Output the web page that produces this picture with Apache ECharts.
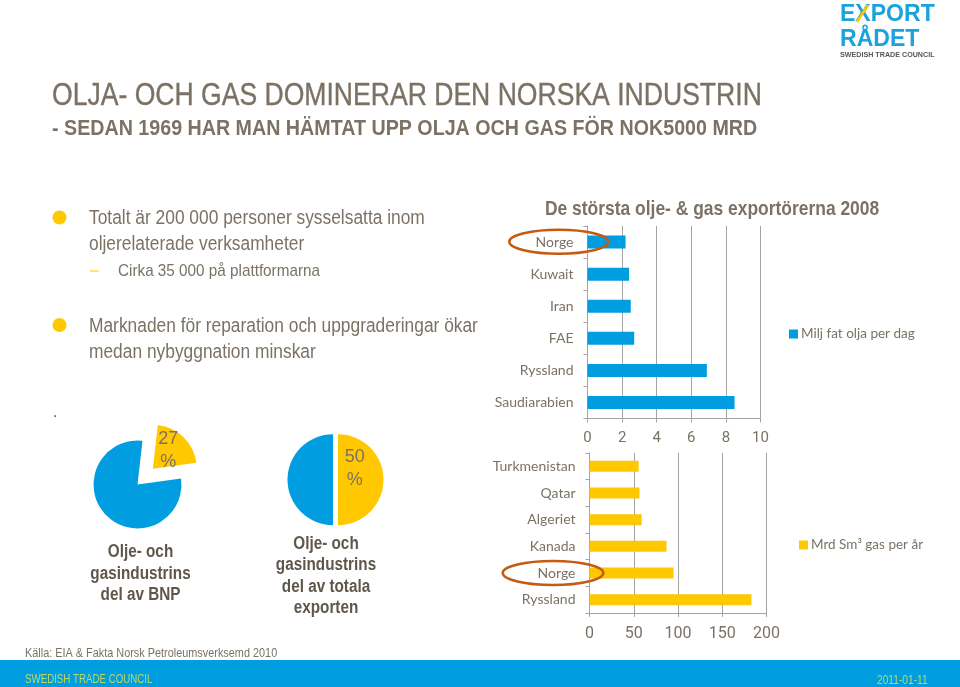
<!DOCTYPE html>
<html>
<head>
<meta charset="utf-8">
<style>
  html, body { margin: 0; padding: 0; background: #fff; }
  #chart { width: 960px; height: 687px; }
</style>
<script src="https://cdn.jsdelivr.net/npm/echarts@6/dist/echarts.min.js"></script>
</head>
<body>
<div id="chart"></div>
<script>
const oilCountries = ["Norge", "Kuwait", "Iran", "FAE", "Ryssland", "Saudiarabien"];
const oilValues = [2.2, 2.4, 2.5, 2.7, 6.9, 8.5];
const oilName = "Milj fat olja per dag";

const gasCountries = ["Turkmenistan", "Qatar", "Algeriet", "Kanada", "Norge", "Ryssland"];
const gasValues = [55.5, 56.5, 59, 87, 95, 183];
const gasName = "Mrd Sm³ gas per år";

// the drawn BNP slice is smaller than its label says, values follow the picture
const bnpValues = [21, 79];
const bnpLabel = "27\n%";
const exportValues = [50, 50];
const exportLabel = "50\n%";

const mainTitle = "OLJA- OCH GAS DOMINERAR DEN NORSKA INDUSTRIN";
const subTitle = "- SEDAN 1969 HAR MAN HÄMTAT UPP OLJA OCH GAS FÖR NOK5000 MRD";
const chartTitle = "De största olje- & gas exportörerna 2008";
const bnpCaption = "Olje- och\ngasindustrins\ndel av BNP";
const exportCaption = "Olje- och\ngasindustrins\ndel av totala\nexporten";
const bullet1 = "Totalt är 200 000 personer sysselsatta inom\noljerelaterade verksamheter";
const subBullet = "Cirka 35 000 på plattformarna";
const bullet2 = "Marknaden för reparation och uppgraderingar ökar\nmedan nybyggnation minskar";
const source = "Källa: EIA & Fakta Norsk Petroleumsverksemd 2010";
const footerLeft = "SWEDISH TRADE COUNCIL";
const footerDate = "2011-01-11";

const SANS = '"Liberation Sans", sans-serif';
const TICK_FONT = 'Roboto, "Liberation Sans", sans-serif';
const LABEL_FONT = 'Lato, "Liberation Sans", sans-serif';
const BLUE = "#009ee0";
const YELLOW = "#ffc800";
const TEXT = "#7b7265";
const DARK = "#5f574b";
const GRID = "#a3a3a3";
const OVAL = "#c55a11";

const el = echarts.init(document.getElementById("chart"));

// no narrow font on the box, so the slide text is squeezed with scaleX
function textEl(text, x, y, size, color, scaleX, extra) {
  return {
    type: "text",
    z: 100,
    silent: true,
    x: x,
    y: y,
    scaleX: scaleX,
    style: Object.assign(
      {
        text: text,
        fontFamily: SANS,
        fontSize: size,
        fill: color,
        textVerticalAlign: "middle",
      },
      extra || {}
    ),
  };
}

function dot(cx, cy) {
  return {
    type: "circle",
    z: 100,
    silent: true,
    shape: { cx: cx, cy: cy, r: 7 },
    style: { fill: YELLOW },
  };
}

function oval(cx, cy, rx, ry) {
  return {
    type: "ellipse",
    z: 100,
    silent: true,
    shape: { cx: cx, cy: cy, rx: rx, ry: ry },
    style: { fill: "none", stroke: OVAL, lineWidth: 2.5 },
  };
}

function barAxes(categories, max, interval, labelSize, labelMargin) {
  return {
    x: {
      type: "value",
      min: 0,
      max: max,
      interval: interval,
      axisLine: { show: true, onZero: false, lineStyle: { color: GRID } },
      axisTick: { show: true, length: 4, lineStyle: { color: GRID } },
      splitLine: { show: true, lineStyle: { color: GRID } },
      axisLabel: { color: TEXT, fontFamily: TICK_FONT, fontSize: labelSize, margin: labelMargin },
    },
    y: {
      type: "category",
      inverse: true,
      data: categories,
      axisLine: { show: true, onZero: false, lineStyle: { color: GRID } },
      axisTick: { show: true, length: 4, lineStyle: { color: GRID } },
      axisLabel: { color: TEXT, fontFamily: LABEL_FONT, fontSize: 14, margin: 14 },
    },
  };
}

// padding pushes the centred label off the slice middle
function pieLabel(text, padding) {
  return {
    show: true,
    position: "inside",
    formatter: text,
    padding: padding,
    color: TEXT,
    fontFamily: SANS,
    fontSize: 18,
    lineHeight: 23,
  };
}

const oilAxes = barAxes(oilCountries, 10, 2, 15, 12);
const gasAxes = barAxes(gasCountries, 200, 50, 16, 13);

options = {
  animation: false,
  grid: [
    { left: 587.5, top: 226, width: 173, height: 192.5 },
    { left: 589.5, top: 453, width: 177, height: 160 },
  ],
  xAxis: [
    Object.assign({ gridIndex: 0 }, oilAxes.x),
    Object.assign({ gridIndex: 1 }, gasAxes.x),
  ],
  yAxis: [
    Object.assign({ gridIndex: 0 }, oilAxes.y),
    Object.assign({ gridIndex: 1 }, gasAxes.y),
  ],
  legend: [
    {
      data: [oilName],
      left: 784,
      top: 322,
      icon: "rect",
      itemWidth: 9,
      itemHeight: 9,
      selectedMode: false,
      textStyle: { color: TEXT, fontFamily: LABEL_FONT, fontSize: 13.5, padding: [0, 0, 0, -2] },
    },
    {
      data: [gasName],
      left: 794,
      top: 533,
      icon: "rect",
      itemWidth: 9,
      itemHeight: 9,
      selectedMode: false,
      textStyle: { color: TEXT, fontFamily: LABEL_FONT, fontSize: 13.5, padding: [0, 0, 0, -2] },
    },
  ],
  series: [
    {
      name: oilName,
      type: "bar",
      xAxisIndex: 0,
      yAxisIndex: 0,
      barWidth: 13,
      itemStyle: { color: BLUE },
      data: oilValues,
      silent: true,
    },
    {
      name: gasName,
      type: "bar",
      xAxisIndex: 1,
      yAxisIndex: 1,
      barWidth: 11,
      itemStyle: { color: YELLOW },
      data: gasValues,
      silent: true,
    },
    {
      type: "pie",
      center: [137.5, 484.5],
      radius: [0, 44],
      startAngle: 83.5,
      selectedMode: "single",
      selectedOffset: 22,
      silent: true,
      labelLine: { show: false },
      data: [
        { value: bnpValues[0], selected: true, itemStyle: { color: YELLOW }, label: pieLabel(bnpLabel, [0, 4, 0, 0]) },
        { value: bnpValues[1], itemStyle: { color: BLUE }, label: { show: false } },
      ],
    },
    {
      type: "pie",
      center: [333, 479.7],
      radius: [0, 45.5],
      startAngle: 90,
      selectedMode: "single",
      selectedOffset: 5,
      silent: true,
      labelLine: { show: false },
      data: [
        // blank last line lifts the text towards the top of the slice
        { value: exportValues[0], selected: true, itemStyle: { color: YELLOW }, label: pieLabel(exportLabel + "\n ", [0, 18, 0, 0]) },
        { value: exportValues[1], itemStyle: { color: BLUE }, label: { show: false } },
      ],
    },
  ],
  graphic: [
    // footer band
    { type: "rect", z: 90, silent: true, shape: { x: 0, y: 660, width: 960, height: 27 }, style: { fill: BLUE } },
    textEl(footerLeft, 25, 680, 12, "#b7d96a", 0.81),
    textEl(footerDate, 877, 681, 12, "#b7d96a", 0.85),

    // headings
    textEl(mainTitle, 52, 96.5, 32, TEXT, 0.83, { stroke: TEXT, lineWidth: 0.4 }),
    textEl(subTitle, 52, 129, 22, TEXT, 0.894, { fontWeight: "bold" }),
    textEl(chartTitle, 545, 209, 21, TEXT, 0.83, { fontWeight: "bold" }),

    // bullet text
    dot(59.5, 217.5),
    textEl(bullet1, 89, 231, 20, TEXT, 0.868, { lineHeight: 26 }),
    { type: "line", z: 100, silent: true, shape: { x1: 90, y1: 271, x2: 99, y2: 271 }, style: { stroke: YELLOW, lineWidth: 1 } },
    textEl(subBullet, 118, 271, 17, TEXT, 0.898),
    dot(59.5, 325),
    textEl(bullet2, 89, 339, 20, TEXT, 0.868, { lineHeight: 26 }),
    textEl(".", 53, 413, 16, DARK, 1),

    // pie captions
    textEl(bnpCaption, 140.5, 574, 18, DARK, 0.85, { fontWeight: "bold", textAlign: "center", lineHeight: 21.5 }),
    textEl(exportCaption, 326, 576, 18, DARK, 0.85, { fontWeight: "bold", textAlign: "center", lineHeight: 21.5 }),
    textEl(source, 25, 653, 13, TEXT, 0.837),

    // Norway rings
    oval(558.8, 241.7, 49.5, 12),
    oval(553, 573, 50.3, 12),

    // logo
    textEl("EXPORT", 840, 14, 24, "#1aa3dc", 0.96, { fontWeight: "bold" }),
    textEl("RÅDET", 840, 39, 24, "#1aa3dc", 0.96, { fontWeight: "bold" }),
    { type: "line", z: 101, silent: true, shape: { x1: 857, y1: 22, x2: 868, y2: 5 }, style: { stroke: YELLOW, lineWidth: 2.5 } },
    textEl("SWEDISH TRADE COUNCIL", 840, 55, 6.5, "#555", 1.1, { fontWeight: "bold" }),
  ],
};

el.setOption(options);
</script>
</body>
</html>
